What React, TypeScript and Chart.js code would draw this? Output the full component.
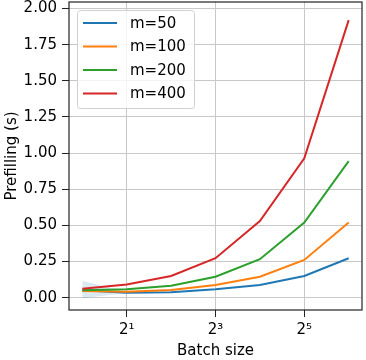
import React, { useEffect, useRef } from "react";
import { Chart, registerables } from "chart.js";

Chart.register(...registerables);

// ---- data ----
const batchSizes = [1, 2, 4, 8, 16, 32, 64];
const m50 = [0.052, 0.035, 0.037, 0.058, 0.088, 0.15, 0.273];
const m100 = [0.047, 0.042, 0.053, 0.088, 0.145, 0.261, 0.52];
const m200 = [0.052, 0.058, 0.083, 0.145, 0.266, 0.52, 0.944];
const m400 = [0.062, 0.092, 0.15, 0.273, 0.53, 0.964, 1.92];
const m50BandUpper = [0.118, 0.038, null, null, null, null, null];
const m50BandLower = [-0.003, 0.032, null, null, null, null, null];
const seriesLabels = ["m=50", "m=100", "m=200", "m=400"];
const seriesColors = ["#1f77b4", "#ff7f0e", "#2ca02c", "#d62728"];
const xTickValues = [2, 8, 32];
const xTickLabels = ["2¹", "2³", "2⁵"];
const yTickValues = [0, 0.25, 0.5, 0.75, 1.0, 1.25, 1.5, 1.75, 2.0];

const FONT = "'DejaVu Sans', sans-serif";

const toPoints = (arr: (number | null)[]) =>
  batchSizes.map((b, i) => ({ x: b, y: arr[i] }));

const framePlugin = {
  id: "frameAndLegend",
  afterDraw(chart: any) {
    const ctx = chart.ctx as CanvasRenderingContext2D;
    const a = chart.chartArea;
    ctx.save();
    // legend
    const lx = a.left + 8;
    const ly = a.top + 8;
    const lw = 117;
    const lh = 98;
    ctx.beginPath();
    (ctx as any).roundRect(lx + 0.5, ly + 0.5, lw, lh, 3);
    ctx.fillStyle = "rgba(255,255,255,0.8)";
    ctx.fill();
    ctx.strokeStyle = "#d0d0d0";
    ctx.lineWidth = 1;
    ctx.stroke();
    ctx.font = `15px ${FONT}`;
    ctx.textBaseline = "middle";
    ctx.textAlign = "left";
    seriesLabels.forEach((lab, i) => {
      const cy = ly + 13 + i * 23.5;
      ctx.beginPath();
      ctx.moveTo(lx + 6, cy);
      ctx.lineTo(lx + 40, cy);
      ctx.strokeStyle = seriesColors[i];
      ctx.lineWidth = 2;
      ctx.stroke();
      ctx.fillStyle = "#000";
      ctx.fillText(lab, lx + 53, cy + 1);
    });
    // frame
    ctx.strokeStyle = "#222";
    ctx.lineWidth = 1.2;
    ctx.strokeRect(a.left, a.top, a.right - a.left, a.bottom - a.top);
    ctx.restore();
  },
};

export default function App() {
  const ref = useRef<HTMLCanvasElement | null>(null);

  useEffect(() => {
    if (!ref.current) return;
    const lines = [m50, m100, m200, m400].map((arr, i) => ({
      label: seriesLabels[i],
      data: toPoints(arr),
      borderColor: seriesColors[i],
      backgroundColor: seriesColors[i],
      borderWidth: 2,
      pointRadius: 0,
      fill: false,
      tension: 0,
      order: 4 - i,
    }));
    const chart = new Chart(ref.current, {
      type: "line",
      data: {
        datasets: [
          {
            label: "band-lower",
            data: toPoints(m50BandLower),
            borderWidth: 0,
            pointRadius: 0,
            fill: false,
            order: 10,
          },
          {
            label: "band-upper",
            data: toPoints(m50BandUpper),
            borderWidth: 0,
            pointRadius: 0,
            backgroundColor: "rgba(31,119,180,0.16)",
            fill: "-1",
            order: 9,
          },
          ...lines,
        ],
      },
      plugins: [framePlugin],
      options: {
        responsive: false,
        animation: false,
        events: [],
        layout: { autoPadding: false, padding: { top: 2, right: 4, left: 0, bottom: 0 } },
        plugins: {
          legend: { display: false },
          tooltip: { enabled: false },
        },
        scales: {
          x: {
            type: "logarithmic",
            min: Math.pow(2, -0.3),
            max: Math.pow(2, 6.3),
            afterBuildTicks: (s: any) => {
              s.ticks = xTickValues.map((v) => ({ value: v }));
            },
            afterFit: (s: any) => {
              s.height = 50;
              s.paddingLeft = 0;
              s.paddingRight = 0;
              s.paddingTop = 0;
              s.paddingBottom = 0;
            },
            border: { display: false },
            grid: {
              color: "#c8c8c8",
              lineWidth: 1,
              tickColor: "#222",
              tickLength: 7,
            },
            ticks: {
              color: "#000",
              font: { family: FONT, size: 15 },
              padding: 4,
              maxRotation: 0,
              autoSkip: false,
              callback: (v: any) => {
                const idx = xTickValues.indexOf(Number(v));
                return idx >= 0 ? xTickLabels[idx] : "";
              },
            },
            title: {
              display: true,
              text: "Batch size",
              color: "#000",
              font: { family: FONT, size: 15 },
              padding: { top: 0, bottom: 0 },
            },
          },
          y: {
            type: "linear",
            min: -0.085,
            max: 2.045,
            afterBuildTicks: (s: any) => {
              s.ticks = yTickValues.map((v) => ({ value: v }));
            },
            afterFit: (s: any) => {
              s.width = 69;
              s.paddingLeft = 0;
              s.paddingRight = 0;
              s.paddingTop = 0;
              s.paddingBottom = 0;
            },
            border: { display: false },
            grid: {
              color: "#c8c8c8",
              lineWidth: 1,
              tickColor: "#222",
              tickLength: 7,
            },
            ticks: {
              color: "#000",
              font: { family: FONT, size: 15 },
              padding: 5,
              callback: (v: any) => Number(v).toFixed(2),
            },
            title: {
              display: true,
              text: "Prefilling (s)",
              color: "#000",
              font: { family: FONT, size: 15 },
              padding: { top: 3, bottom: 0 },
            },
          },
        },
      },
    });
    return () => chart.destroy();
  }, []);

  return (
    <div style={{ position: "absolute", left: 0, top: 0, width: 366, height: 360, background: "#fff" }}>
      <canvas ref={ref} width={366} height={360} style={{ width: 366, height: 360, display: "block" }} />
    </div>
  );
}
